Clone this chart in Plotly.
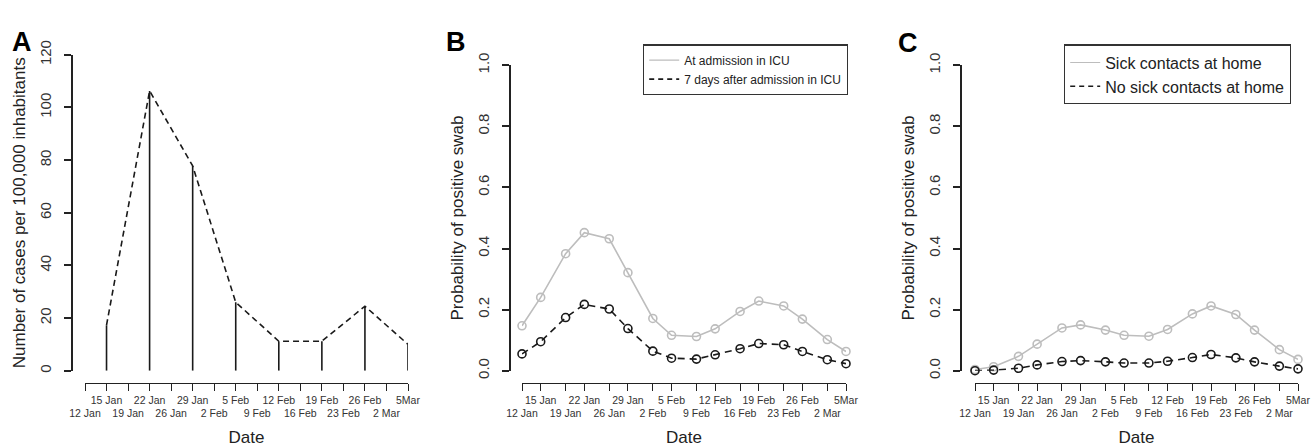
import plotly.graph_objects as go

W, H = 1315, 447

# ---------------- data ----------------
tick_dates = ["2011-01-12", "2011-01-15", "2011-01-19", "2011-01-22", "2011-01-26",
              "2011-01-29", "2011-02-02", "2011-02-05", "2011-02-09", "2011-02-12",
              "2011-02-16", "2011-02-19", "2011-02-23", "2011-02-26", "2011-03-02",
              "2011-03-05"]
tick_labels = ["12 Jan", "15 Jan", "19 Jan", "22 Jan", "26 Jan", "29 Jan", "2 Feb", "5 Feb",
               "9 Feb", "12 Feb", "16 Feb", "19 Feb", "23 Feb", "26 Feb", "2 Mar", "5Mar"]

# Panel A: weekly incidence (cases per 100,000 inhabitants)
weeks_a = ["15 Jan", "22 Jan", "29 Jan", "5 Feb", "12 Feb", "19 Feb", "26 Feb", "5Mar"]
cases_a = [17.3, 106.3, 77.8, 26.0, 11.2, 11.2, 24.5, 10.0]

# Panel B: probability of positive swab
icu_admission = [0.147, 0.240, 0.383, 0.452, 0.432, 0.321, 0.171, 0.116,
                 0.112, 0.137, 0.194, 0.228, 0.212, 0.169, 0.102, 0.063]
icu_7days = [0.055, 0.095, 0.174, 0.217, 0.202, 0.138, 0.064, 0.041,
             0.038, 0.052, 0.072, 0.089, 0.085, 0.063, 0.036, 0.023]

# Panel C
sick_contacts = [0.004, 0.013, 0.047, 0.087, 0.140, 0.150, 0.133, 0.116,
                 0.113, 0.135, 0.186, 0.212, 0.184, 0.133, 0.069, 0.037]
no_sick_contacts = [0.000, 0.002, 0.008, 0.019, 0.030, 0.033, 0.029, 0.025,
                    0.025, 0.031, 0.043, 0.053, 0.042, 0.029, 0.015, 0.006]

# ---------------- style ----------------
FONT = "Liberation Sans, Arial, Helvetica, sans-serif"
AX = "#222222"
GRAY = "#bdbdbd"
BLACK = "#1a1a1a"


def fx(px):
    return px / W


def fy(py):
    return 1 - py / H


# two-row tick text (alternating rows like the original)
tick_text = [(lab if i % 2 == 1 else "<br>" + lab) for i, lab in enumerate(tick_labels)]

fig = go.Figure()

# ---- Panel A ----
xa = [tick_labels.index(w) for w in weeks_a]
vx, vy = [], []
for x, v in zip(xa, cases_a):
    vx += [x, x, None]
    vy += [0, v, None]
fig.add_trace(go.Scatter(x=vx, y=vy, mode="lines", line=dict(color=BLACK, width=1.6),
                         showlegend=False, xaxis="x", yaxis="y", hoverinfo="skip"))
fig.add_trace(go.Scatter(x=xa, y=cases_a, mode="lines",
                         line=dict(color=BLACK, width=1.6, dash="6px,4px"),
                         showlegend=False, xaxis="x", yaxis="y"))

# ---- Panel B ----
fig.add_trace(go.Scatter(x=tick_dates, y=icu_admission, mode="lines+markers",
                         line=dict(color=GRAY, width=1.6),
                         marker=dict(symbol="circle-open", size=8, color=GRAY, line=dict(width=1.6)),
                         cliponaxis=False, showlegend=False, xaxis="x2", yaxis="y2"))
fig.add_trace(go.Scatter(x=tick_dates, y=icu_7days, mode="lines+markers",
                         line=dict(color=BLACK, width=1.6, dash="7px,5px"),
                         marker=dict(symbol="circle-open", size=8, color=BLACK, line=dict(width=1.6)),
                         cliponaxis=False, showlegend=False, xaxis="x2", yaxis="y2"))
fig.add_trace(go.Scatter(x=[None], y=[None], mode="lines", name="At admission in ICU",
                         line=dict(color=GRAY, width=1.2), legend="legend",
                         xaxis="x2", yaxis="y2"))
fig.add_trace(go.Scatter(x=[None], y=[None], mode="lines", name="7 days after admission in ICU",
                         line=dict(color=BLACK, width=1.6, dash="5px,4px"), legend="legend",
                         xaxis="x2", yaxis="y2"))

# ---- Panel C ----
fig.add_trace(go.Scatter(x=tick_dates, y=sick_contacts, mode="lines+markers",
                         line=dict(color=GRAY, width=1.6),
                         marker=dict(symbol="circle-open", size=8, color=GRAY, line=dict(width=1.6)),
                         cliponaxis=False, showlegend=False, xaxis="x3", yaxis="y3"))
fig.add_trace(go.Scatter(x=tick_dates, y=no_sick_contacts, mode="lines+markers",
                         line=dict(color=BLACK, width=1.6, dash="7px,5px"),
                         marker=dict(symbol="circle-open", size=8, color=BLACK, line=dict(width=1.6)),
                         cliponaxis=False, showlegend=False, xaxis="x3", yaxis="y3"))
fig.add_trace(go.Scatter(x=[None], y=[None], mode="lines", name="Sick contacts at home",
                         line=dict(color=GRAY, width=1.2), legend="legend2",
                         xaxis="x3", yaxis="y3"))
fig.add_trace(go.Scatter(x=[None], y=[None], mode="lines", name="No sick contacts at home",
                         line=dict(color=BLACK, width=1.6, dash="5px,4px"), legend="legend2",
                         xaxis="x3", yaxis="y3"))

# empty traces that make the overlay axes (axis line + tick marks only) get drawn
for xname, yname in [("x", "y4"), ("x2", "y5"), ("x3", "y6")]:
    fig.add_trace(go.Scatter(x=[None], y=[None], mode="lines", showlegend=False,
                             hoverinfo="skip", xaxis=xname, yaxis=yname))

# ---------------- axes ----------------
XAXIS_Y = fy(388)


def xaxis_common(dom, rng, tickvals):
    return dict(domain=dom, range=rng, tickmode="array", tickvals=tickvals, ticktext=tick_text,
                anchor="free", position=XAXIS_Y, showline=True, linecolor=AX, linewidth=1.4,
                ticks="outside", ticklen=7, tickwidth=1.2, tickcolor=AX, showgrid=False,
                zeroline=False, tickangle=0, tickfont=dict(size=10.5, color="#333"),
                title=dict(text="Date", font=dict(size=17, color="#222"), standoff=12),
                automargin=False)


def yaxis_common(dom, rng, dtick, xpos, fmt, title):
    # carries tick labels and title
    return dict(domain=dom, range=rng, anchor="free", position=xpos,
                showline=True, linecolor=AX, linewidth=1.6, ticks="outside", ticklen=7,
                tickcolor=AX, tickwidth=1.6, showgrid=False, zeroline=False, tickangle=-90,
                dtick=dtick, tick0=0, tickformat=fmt, tickfont=dict(size=15, color="#333"),
                ticklabelstandoff=7,
                title=dict(text=title, font=dict(size=17, color="#222"), standoff=6))


def yaxis_line(base, dom, rng, dtick, xpos):
    # overlay axis: line and tick marks only
    return dict(overlaying=base, domain=dom, range=rng, anchor="free", position=xpos,
                side="left", showline=True, linecolor=AX, linewidth=2, ticks="outside",
                ticklen=7, tickcolor=AX, tickwidth=1.6, dtick=dtick, tick0=0,
                showticklabels=False, showgrid=False, zeroline=False)


ydom_a = [fy(375), fy(42)]
ydom_bc = [fy(375), fy(53)]

fig.update_layout(
    xaxis=xaxis_common([fx(85), fx(408)], [0, len(tick_labels) - 1],
                       list(range(len(tick_labels)))),
    yaxis=yaxis_common(ydom_a, [0, 120], 20, fx(72), "d",
                       "Number of cases per 100,000 inhabitants"),
    yaxis4=yaxis_line("y", ydom_a, [0, 120], 20, fx(72)),
    xaxis2=xaxis_common([fx(522), fx(846)], [tick_dates[0], tick_dates[-1]], tick_dates),
    yaxis2=yaxis_common(ydom_bc, [0, 1], 0.2, fx(510), ".1f", "Probability of positive swab"),
    yaxis5=yaxis_line("y2", ydom_bc, [0, 1], 0.2, fx(510)),
    xaxis3=xaxis_common([fx(975), fx(1298)], [tick_dates[0], tick_dates[-1]], tick_dates),
    yaxis3=yaxis_common(ydom_bc, [0, 1], 0.2, fx(961), ".1f", "Probability of positive swab"),
    yaxis6=yaxis_line("y3", ydom_bc, [0, 1], 0.2, fx(961)),
)

fig.update_layout(
    width=W, height=H, autosize=False,
    margin=dict(l=0, r=0, t=0, b=0),
    paper_bgcolor="white", plot_bgcolor="white",
    font=dict(family=FONT, color="#222"),
    legend=dict(x=fx(643), y=fy(31), xanchor="left", yanchor="top",
                bordercolor="#333", borderwidth=1.2, bgcolor="white",
                font=dict(size=12, family=FONT, color="#222"), itemwidth=30,
                tracegroupgap=0),
    legend2=dict(x=fx(1064), y=fy(31), xanchor="left", yanchor="top",
                 bordercolor="#333", borderwidth=1.2, bgcolor="white",
                 font=dict(size=16, family=FONT, color="#222"), itemwidth=30,
                 tracegroupgap=0),
    annotations=[
        dict(text="<b>A</b>", x=fx(10), y=fy(28), xref="paper", yref="paper",
             xanchor="left", yanchor="middle", showarrow=False, font=dict(size=27, color="black")),
        dict(text="<b>B</b>", x=fx(444), y=fy(28), xref="paper", yref="paper",
             xanchor="left", yanchor="middle", showarrow=False, font=dict(size=27, color="black")),
        dict(text="<b>C</b>", x=fx(896), y=fy(30), xref="paper", yref="paper",
             xanchor="left", yanchor="middle", showarrow=False, font=dict(size=27, color="black")),
    ],
)

fig.write_html("out.html", config={"displayModeBar": False},
               post_script="document.body.style.margin='0px';")
